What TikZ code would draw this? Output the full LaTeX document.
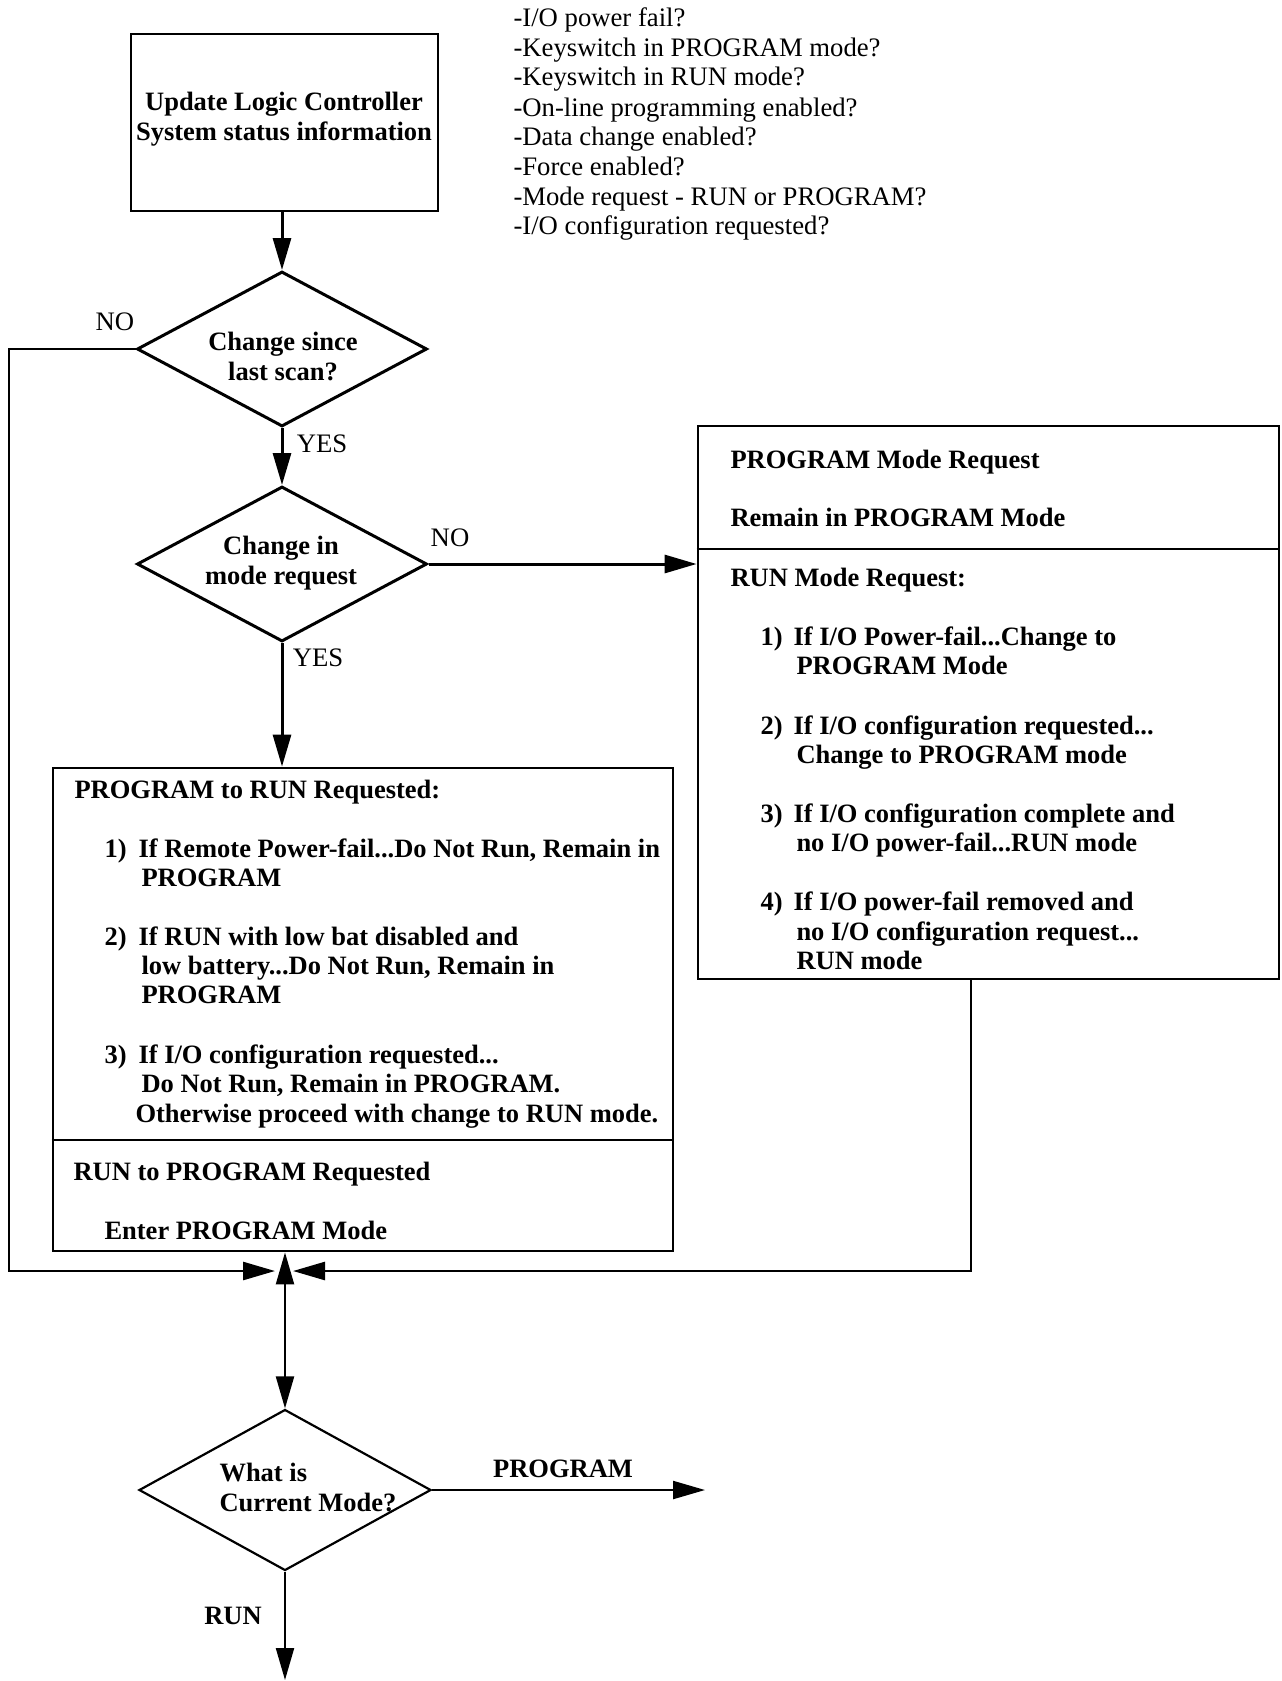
\documentclass[tikz,border=0pt]{standalone}
\usepackage{fontspec}
\setmainfont{Liberation Serif}
\usetikzlibrary{shapes.geometric,arrows.meta}
\newcommand{\fsb}{\fontsize{13.25}{15}\selectfont}
\newcommand{\fsr}{\fontsize{13.35}{15}\selectfont}
\begin{document}
\begin{tikzpicture}[x=0.5pt,y=-0.5pt,
  line width=1.5pt,
  arr/.style={-{Triangle[length=16pt,width=9pt]}},
  darr/.style={{Triangle[length=16pt,width=9pt]}-{Triangle[length=16pt,width=9pt]}},
  thin/.style={line width=1.1pt},
  box/.style={draw, line width=1.4pt, inner sep=0pt},
  dia/.style={draw, diamond, aspect=1.87, inner sep=0pt},
  bt/.style={anchor=base west, inner sep=0pt, font=\bfseries\fsb},
  rt/.style={anchor=base west, inner sep=0pt, font=\fsr},
  bc/.style={inner sep=0pt, align=center, font=\bfseries\fsb},
  lbl/.style={inner sep=0pt, font=\fsr},
  blbl/.style={inner sep=0pt, font=\bfseries\fsb},
]
\fill[white] (0,0) rectangle (1281,1681);
\useasboundingbox (0,0) rectangle (1281,1681);

% top box
\node[box, minimum width=153.5pt, minimum height=88.5pt] (ubox) at (284.5,122.5) {};
\node[bc] (ut) at (284,119) {Update Logic Controller\\System status information};

% list
\node[rt] (l1) at (512,26) {-I/O power fail?};
\node[rt] (l2) at (512,56) {-Keyswitch in PROGRAM mode?};
\node[rt] (l3) at (512,85) {-Keyswitch in RUN mode?};
\node[rt] (l4) at (512,116) {-On-line programming enabled?};
\node[rt] (l5) at (512,145) {-Data change enabled?};
\node[rt] (l6) at (512,175) {-Force enabled?};
\node[rt] (l7) at (512,205) {-Mode request - RUN or PROGRAM?};
\node[rt] (l8) at (512,234) {-I/O configuration requested?};

% diamonds
\node[dia, minimum width=145pt, minimum height=77.5pt] (d1) at (282,349) {};
\node[bc] (t1) at (283,356) {Change since\\last scan?};
\node[dia, minimum width=145pt, minimum height=77.5pt] (d2) at (282,564) {};
\node[bc] (t2) at (281,563) {Change in\\mode request};
\node[dia, thin, minimum width=146pt, minimum height=80.5pt] (d3) at (285,1490) {};
\node[blbl, anchor=west, align=left] (t3) at (218,1487) {What is\\Current Mode?};

% labels
\node[lbl] (no1) at (115,322) {NO};
\node[lbl] (yes1) at (322,444) {YES};
\node[lbl] (no2) at (450,538) {NO};
\node[lbl] (yes2) at (318,658) {YES};
\node[blbl] (prg) at (563,1469) {PROGRAM};
\node[blbl] (run) at (233,1616) {RUN};

% right box
\node[box, minimum width=290.5pt, minimum height=276.5pt] (rbox) at (988.5,702.5) {};
\draw[line width=1.4pt] (rbox.west |- 0,549) -- (rbox.east |- 0,549);
\node[bt] (r1) at (729,468) {PROGRAM Mode Request};
\node[bt] (r2) at (729,526) {Remain in PROGRAM Mode};
\node[bt] (r3) at (729,586) {RUN Mode Request:};
\node[bt] (r4n) at (759,645) {1)};
\node[bt] (r4) at (792,645) {If I/O Power-fail...Change to};
\node[bt] (r4b) at (795,674) {PROGRAM Mode};
\node[bt] (r5n) at (759,734) {2)};
\node[bt] (r5) at (792,734) {If I/O configuration requested...};
\node[bt] (r5b) at (795,763) {Change to PROGRAM mode};
\node[bt] (r6n) at (759,822) {3)};
\node[bt] (r6) at (792,822) {If I/O configuration complete and};
\node[bt] (r6b) at (795,851) {no I/O power-fail...RUN mode};
\node[bt] (r7n) at (759,910) {4)};
\node[bt] (r7) at (792,910) {If I/O power-fail removed and};
\node[bt] (r7b) at (795,940) {no I/O configuration request...};
\node[bt] (r7c) at (795,969) {RUN mode};

% left box
\node[box, minimum width=310pt, minimum height=241.5pt] (lbox) at (363,1009.5) {};
\draw[line width=1.4pt] (lbox.west |- 0,1140) -- (lbox.east |- 0,1140);
\node[bt] (a1) at (73,798) {PROGRAM to RUN Requested:};
\node[bt] (a2n) at (103,857) {1)};
\node[bt] (a2) at (137,857) {If Remote Power-fail...Do Not Run, Remain in};
\node[bt] (a2b) at (140,886) {PROGRAM};
\node[bt] (a3n) at (103,945) {2)};
\node[bt] (a3) at (137,945) {If RUN with low bat disabled and};
\node[bt] (a3b) at (140,974) {low battery...Do Not Run, Remain in};
\node[bt] (a3c) at (140,1003) {PROGRAM};
\node[bt] (a4n) at (103,1063) {3)};
\node[bt] (a4) at (137,1063) {If I/O configuration requested...};
\node[bt] (a4b) at (140,1092) {Do Not Run, Remain in PROGRAM.};
\node[bt] (a4c) at (134,1122) {Otherwise proceed with change to RUN mode.};
\node[bt] (a5) at (72,1180) {RUN to PROGRAM Requested};
\node[bt] (a6) at (103,1239) {Enter PROGRAM Mode};

% coordinates
\coordinate (jl) at (275,1271);
\coordinate (jr) at (293,1271);
\coordinate (lc) at (9,349);
\coordinate (rb) at (971,979);
\coordinate (pe) at (705,1490);
\coordinate (re) at (285,1680);

% connectors
\draw[arr] (d1.north |- ubox.south) -- (d1.north);
\draw[arr] (d1.south) -- (d2.north);
\draw[arr] (d2.south) -- (d2.south |- lbox.north);
\draw[arr] (d2.east) -- (d2.east -| rbox.west);
\draw[arr, line width=1.3pt] (d1.west) -- (lc) |- (jl);
\draw[arr, line width=1.3pt] (rb) |- (jr);
\draw[darr, thin] (d3.north |- lbox.south) -- (d3.north);
\draw[arr, thin] (d3.east) -- (pe);
\draw[arr, thin] (d3.south) -- (re);
\end{tikzpicture}
\end{document}
